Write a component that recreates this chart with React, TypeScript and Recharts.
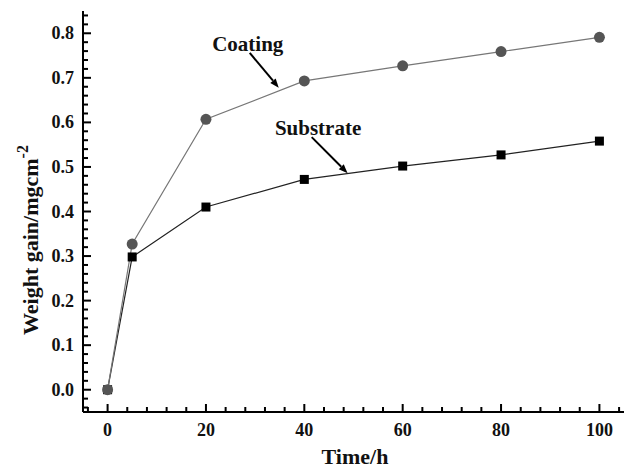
import React from 'react';
import { LineChart, Line, XAxis, YAxis, ReferenceLine, ReferenceDot } from 'recharts';

const times = [0, 5, 20, 40, 60, 80, 100];
const coating = [0, 0.327, 0.607, 0.693, 0.727, 0.759, 0.791];
const substrate = [0, 0.298, 0.41, 0.472, 0.502, 0.527, 0.558];

const xMajor = [0, 20, 40, 60, 80, 100];
const xMinor = [-4, 4, 8, 12, 16, 24, 28, 32, 36, 44, 48, 52, 56, 64, 68, 72, 76, 84, 88, 92, 96, 104];
const yMajor = [0, 0.1, 0.2, 0.3, 0.4, 0.5, 0.6, 0.7, 0.8];
const yMinor = [-0.04, -0.02, 0.02, 0.04, 0.06, 0.08, 0.12, 0.14, 0.16, 0.18, 0.22, 0.24, 0.26, 0.28, 0.32, 0.34, 0.36, 0.38, 0.42, 0.44, 0.46, 0.48, 0.52, 0.54, 0.56, 0.58, 0.62, 0.64, 0.66, 0.68, 0.72, 0.74, 0.76, 0.78, 0.82, 0.84];

const X_DOMAIN = [-5, 105];
const Y_DOMAIN = [-0.05, 0.85];

const data = times.map((t, i) => ({ t, coating: coating[i], substrate: substrate[i] }));

const FONT = '"Liberation Serif", "Times New Roman", serif';

const XTick = (props: any) => {
  const { x, y, payload } = props;
  return (
    <text x={x} y={y + 24} textAnchor="middle" fontFamily={FONT} fontWeight="bold" fontSize={18} fill="#111">
      {String(payload.value)}
    </text>
  );
};

const YTick = (props: any) => {
  const { x, y, payload } = props;
  return (
    <text x={x - 9} y={y + 6} textAnchor="end" fontFamily={FONT} fontWeight="bold" fontSize={18} fill="#111">
      {Number(payload.value).toFixed(1)}
    </text>
  );
};

const XTickMark = (props: any) => {
  const { x1, y1, x2, y2, len } = props;
  if (x1 == null || y1 == null) return null;
  const yb = Math.max(y1, y2);
  return <rect x={x1 - 1} y={yb - len} width={2} height={len} fill="#000" />;
};
const YTickMark = (props: any) => {
  const { x1, y1, x2, y2, len } = props;
  if (x1 == null || y1 == null) return null;
  const xl = Math.min(x1, x2);
  return <rect x={xl} y={y1 - 1} width={len} height={2} fill="#000" />;
};

const SquareDot = (props: any) => {
  const { cx, cy } = props;
  if (cx == null || cy == null) return null;
  return <rect x={cx - 4.5} y={cy - 4.5} width={9} height={9} fill="#000" />;
};

const CircleDot = (props: any) => {
  const { cx, cy } = props;
  if (cx == null || cy == null) return null;
  return <circle cx={cx} cy={cy} r={5.5} fill="#555" />;
};

const Arrow = (props: any) => {
  const { x1, y1, x2, y2 } = props;
  if ([x1, y1, x2, y2].some((v) => v == null)) return null;
  const ang = Math.atan2(y2 - y1, x2 - x1);
  const L = 9;
  const W = 3.5;
  const bx = x2 - L * Math.cos(ang);
  const by = y2 - L * Math.sin(ang);
  const px = -Math.sin(ang) * W;
  const py = Math.cos(ang) * W;
  return (
    <g>
      <line x1={x1} y1={y1} x2={bx} y2={by} stroke="#000" strokeWidth={2} />
      <polygon points={`${x2},${y2} ${bx + px},${by + py} ${bx - px},${by - py}`} fill="#000" />
    </g>
  );
};

const labelShape = (txt: string) => (props: any) => {
  const { cx, cy } = props;
  return (
    <text x={cx} y={cy + 7} textAnchor="middle" fontFamily={FONT} fontWeight="bold" fontSize={21} fill="#111">
      {txt}
    </text>
  );
};

const YLabel = () => (
  <text
    x={0}
    y={0}
    transform="translate(38,335) rotate(-90)"
    textAnchor="start"
    fontFamily={FONT}
    fontWeight="bold"
    fontSize={22}
    fill="#111"
  >
    Weight gain/mgcm
    <tspan dy={-10} fontSize={16}>-2</tspan>
  </text>
);

const XLabel = () => (
  <text x={355} y={464} textAnchor="middle" fontFamily={FONT} fontWeight="bold" fontSize={22} fill="#111">
    Time/h
  </text>
);

export default function App() {
  return (
    <div style={{ position: 'absolute', left: 0, top: 0, background: '#fff' }}>
      <LineChart width={626} height={469} data={data} margin={{ top: 11, right: 2, bottom: 0, left: 0 }}>
        <XAxis
          dataKey="t"
          type="number"
          domain={X_DOMAIN}
          ticks={xMajor}
          interval={0}
          height={57}
          tickSize={0}
          tickMargin={0}
          tickLine={false}
          tick={<XTick />}
          axisLine={{ stroke: '#000', strokeWidth: 2 }}
          label={{ content: <XLabel /> }}
        />
        <XAxis
          xAxisId="top"
          orientation="top"
          dataKey="t"
          type="number"
          domain={X_DOMAIN}
          height={0}
          tick={false}
          tickLine={false}
          axisLine={{ stroke: '#000', strokeWidth: 1.5 }}
        />
        <YAxis
          type="number"
          domain={Y_DOMAIN}
          ticks={yMajor}
          interval={0}
          width={83}
          tickSize={0}
          tickMargin={0}
          tickLine={false}
          tick={<YTick />}
          axisLine={{ stroke: '#000', strokeWidth: 2 }}
          allowDataOverflow
          label={{ content: <YLabel /> }}
        />
        <YAxis
          yAxisId="right"
          orientation="right"
          type="number"
          domain={Y_DOMAIN}
          width={0}
          tick={false}
          tickLine={false}
          axisLine={{ stroke: '#000', strokeWidth: 1.5 }}
        />
        {xMajor.map((v) => (
          <ReferenceLine key={'xM' + v} x={v} shape={<XTickMark len={8} />} ifOverflow="visible" />
        ))}
        {xMinor.map((v) => (
          <ReferenceLine key={'xm' + v} x={v} shape={<XTickMark len={5} />} ifOverflow="visible" />
        ))}
        {yMajor.map((v) => (
          <ReferenceLine key={'yM' + v} y={v} shape={<YTickMark len={8} />} ifOverflow="visible" />
        ))}
        {yMinor.map((v) => (
          <ReferenceLine key={'ym' + v} y={v} shape={<YTickMark len={5} />} ifOverflow="visible" />
        ))}
        <Line
          type="linear"
          dataKey="substrate"
          stroke="#222"
          strokeWidth={1.2}
          dot={<SquareDot />}
          activeDot={false}
          isAnimationActive={false}
        />
        <Line
          type="linear"
          dataKey="coating"
          stroke="#777"
          strokeWidth={1.2}
          dot={<CircleDot />}
          activeDot={false}
          isAnimationActive={false}
        />
        <ReferenceLine segment={[{ x: 28.9, y: 0.756 }, { x: 34.8, y: 0.678 }]} shape={<Arrow />} ifOverflow="visible" />
        <ReferenceLine segment={[{ x: 41.5, y: 0.567 }, { x: 48.8, y: 0.486 }]} shape={<Arrow />} ifOverflow="visible" />
        <ReferenceDot x={28.5} y={0.776} r={0} shape={labelShape('Coating')} ifOverflow="visible" />
        <ReferenceDot x={42.8} y={0.587} r={0} shape={labelShape('Substrate')} ifOverflow="visible" />
      </LineChart>
    </div>
  );
}
